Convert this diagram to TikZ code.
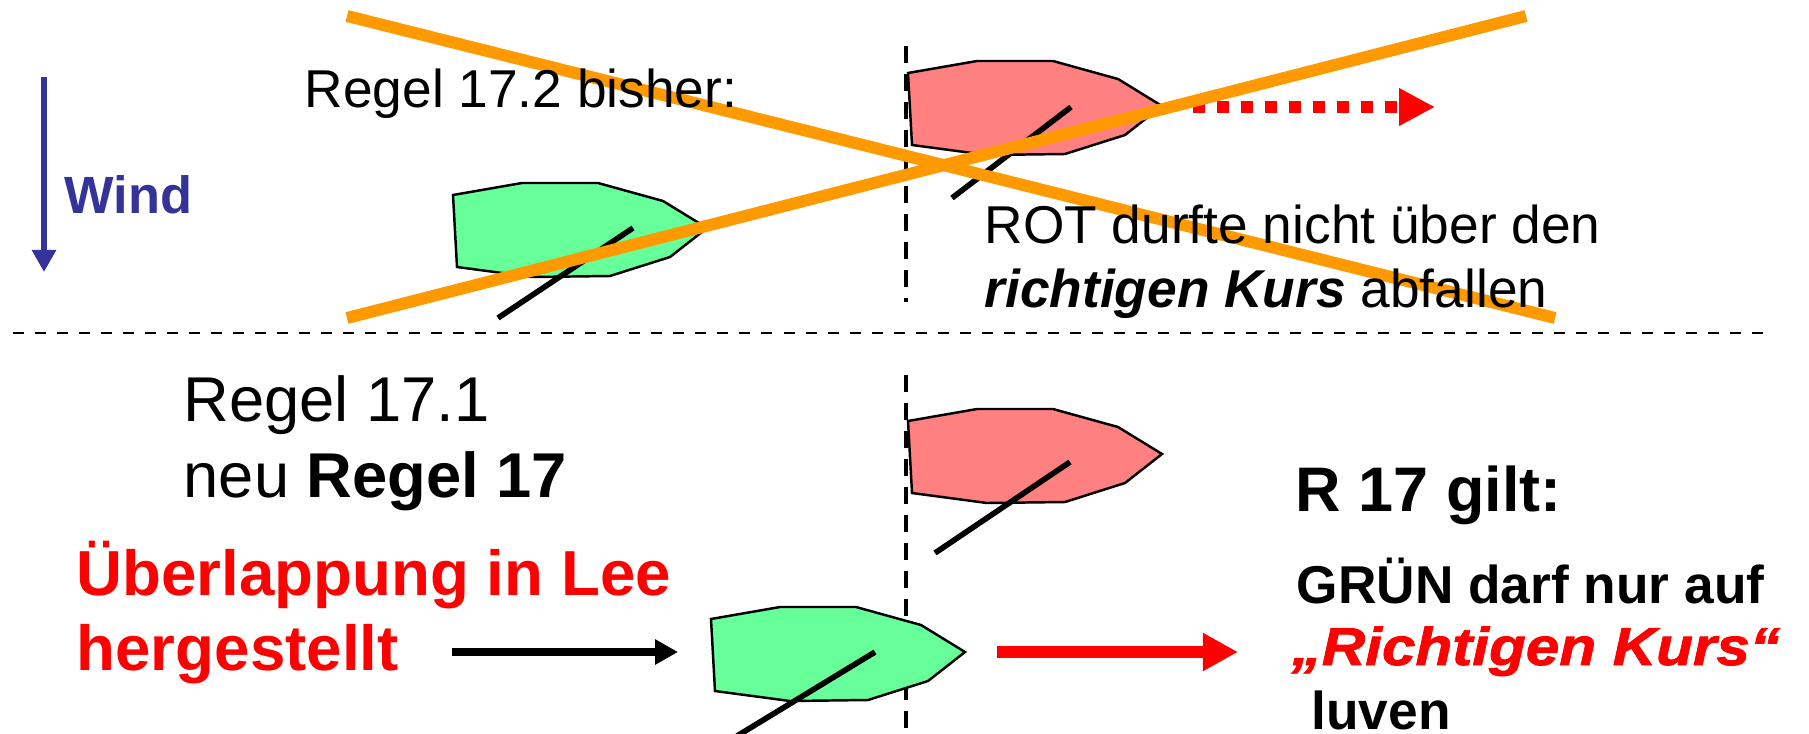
\documentclass[tikz,border=0pt]{standalone}
\usepackage{fontspec}
\setmainfont{Liberation Sans}
\usetikzlibrary{arrows.meta}

\definecolor{windblue}{HTML}{333399}
\definecolor{crossorange}{HTML}{FF9900}
\definecolor{boatgreen}{HTML}{66FF99}
\definecolor{boatred}{HTML}{FF8080}

\tikzset{
  txt/.style={anchor=base west, inner sep=0pt},
  tillerline/.style={line width=1.6pt},
  crossline/.style={line width=3.4pt, crossorange},
  hdash/.style={line width=0.65pt, dash pattern=on 3.13pt off 3.13pt},
  vdash/.style={line width=1.1pt, dash pattern=on 4.84pt off 3.13pt},
  pics/hull/.style={code={
    \draw[line width=0.7pt, fill=#1] (0,0) -- (69,-12) -- (145,-12) -- (210,6) -- (254,33)
      -- (217,62) -- (157,81) -- (79,82) -- (4,72) -- cycle;
  }}
}

\newcommand{\textsm}{\fontsize{15.15}{18}\selectfont}
\newcommand{\textlg}{\fontsize{18}{21}\selectfont}

\begin{document}
\begin{tikzpicture}[x=0.01cm, y=-0.01cm]
\useasboundingbox (0,0) rectangle (1809,733);

% wind
\coordinate (wind top) at (44,77);
\coordinate (wind tip) at (44,272);
\draw[windblue, line width=1.7pt, -{Triangle[width=6.6pt,length=6.3pt]}] (wind top) -- (wind tip);
\node[txt, windblue, font=\bfseries\fontsize{14.9}{17}\selectfont] (wind) at (64,213) {Wind};

% dividers
\draw[hdash] (13,333) -- (1766,333);
\draw[vdash] (906,46) -- (906,302);
\draw[vdash] (906,375) -- (906,736);

% old rule: boats
\pic at (453,195) {hull=boatgreen};
\draw[tillerline] (633,228) -- (498,318);
\pic at (908,73) {hull=boatred};
\draw[tillerline] (1071,107) -- (952,198);

\coordinate (dot start) at (1193,107);
\coordinate (dot end) at (1435,107);
\draw[red, line width=3.4pt, dash pattern=on 3.41pt off 3.41pt,
  -{Triangle[width=10pt,length=10.2pt]}] (dot start) -- (dot end);

% crossed out
\draw[crossline] (347,16) -- (1555,318);
\draw[crossline] (347,318) -- (1526,16);

\node[txt, font=\textsm] (old rule) at (304,107) {Regel 17.2 bisher:};
\node[txt, font=\textsm] (rot a) at (984,243) {ROT durfte nicht über den};
\node[txt, font=\textsm] (rot b) at (984,307) {\textbf{\textit{richtigen Kurs}} abfallen};

% new rule: boats
\pic at (908,421) {hull=boatred};
\draw[tillerline] (1070,462) -- (935,553);
\pic at (711,619) {hull=boatgreen};
\draw[tillerline] (875,652) -- (737,736);

\node[txt, font=\textlg] (rule a) at (183,421) {Regel 17.1};
\node[txt, font=\textlg] (rule b) at (183,497) {neu \textbf{Regel 17}};
\node[txt, red, font=\bfseries\fontsize{18.1}{21}\selectfont] (overlap a) at (76,595) {Überlappung in Lee};
\node[txt, red, font=\bfseries\fontsize{18.1}{21}\selectfont] (overlap b) at (76,670) {hergestellt};

\coordinate (black start) at (452,652);
\coordinate (black tip) at (678,652);
\draw[line width=2pt, -{Triangle[width=6.8pt,length=6.5pt]}] (black start) -- (black tip);
\coordinate (red start) at (997,652);
\coordinate (red tip) at (1238,652);
\draw[red, line width=3.4pt, -{Triangle[width=10.2pt,length=10pt]}] (red start) -- (red tip);

\node[txt, font=\bfseries\fontsize{17.9}{21}\selectfont] (r17) at (1295,511) {R 17 gilt:};
\node[txt, font=\bfseries\textsm] (gruen a) at (1296,603) {GRÜN darf nur auf};
\node[txt, red, font=\bfseries\itshape\textsm\addfontfeatures{FakeStretch=1.13,FakeBold=1.5}] (gruen b) at (1291,665) {„Richtigen Kurs“};
\node[txt, font=\bfseries\textsm] (gruen c) at (1296,729) {\ luven};
\end{tikzpicture}
\end{document}
